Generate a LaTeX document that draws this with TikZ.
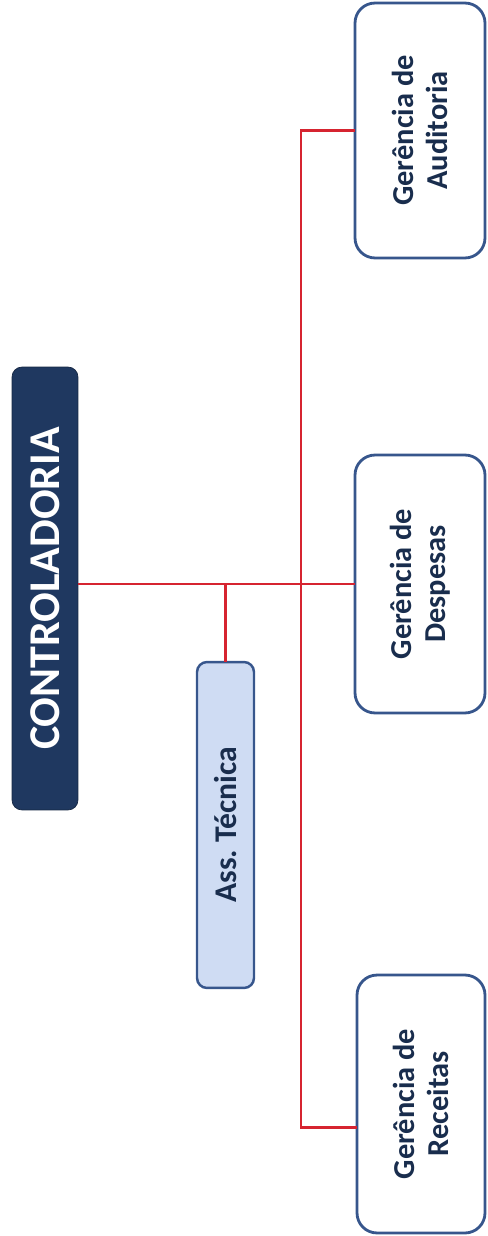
\documentclass[tikz,border=0pt]{standalone}
\usepackage{fontspec}
\setmainfont{Carlito}
\usepackage{tikz}
\usetikzlibrary{calc}

\definecolor{navy}{RGB}{31,56,96}
\definecolor{paleblue}{RGB}{207,220,243}
\definecolor{boxline}{RGB}{55,86,140}
\definecolor{linkred}{RGB}{214,36,48}

\tikzset{
  unit/.style={draw=boxline, line width=1.6pt, rounded corners=0.4cm, fill=white,
    rotate=90, inner sep=0pt, outer sep=0pt, align=center,
    font=\fontsize{17.3}{19.5}\selectfont\bfseries, text=navy!80!black},
  link/.style={draw=linkred, line width=1.6pt}
}

\begin{document}
\begin{tikzpicture}[x=0.02cm, y=-0.02cm]
  \useasboundingbox (0,0) rectangle (487,1236);
  \node[fill=navy, draw=navy!70!black, rounded corners=0.2cm, rotate=90,
    minimum width=8.86cm, minimum height=1.32cm, inner sep=0pt, outer sep=0pt,
    text=white, font=\fontsize{25}{28}\selectfont\bfseries] (ctrl) at (45,588.5) {CONTROLADORIA};
  \node[fill=paleblue, draw=boxline, line width=1.4pt, rounded corners=0.2cm, rotate=90,
    minimum width=6.52cm, minimum height=1.14cm, inner sep=0pt, outer sep=0pt,
    text=navy!80!black, font=\fontsize{18}{21}\selectfont\bfseries] (tec) at (225.5,825) {Ass.\ Técnica};
  \node[unit, minimum width=5.1cm, minimum height=2.6cm] (aud) at (420,130.5) {Gerência de\\Auditoria};
  \node[unit, minimum width=5.16cm, minimum height=2.6cm] (desp) at (420,584) {Gerência de\\Despesas};
  \node[unit, minimum width=5.16cm, minimum height=2.56cm] (rec) at (421,1104) {Gerência de\\Receitas};
  % ligações
  \coordinate (recin) at ($(rec.north)!0.18!(rec.north west)$);
  \draw[link] (desp.north -| ctrl.south) -- (desp.north);
  \draw[link] (tec.east) -- (tec.east |- desp.north);
  \draw[link] (aud.north) -- ++(-54,0) coordinate (spine) |- (recin);
\end{tikzpicture}
\end{document}
